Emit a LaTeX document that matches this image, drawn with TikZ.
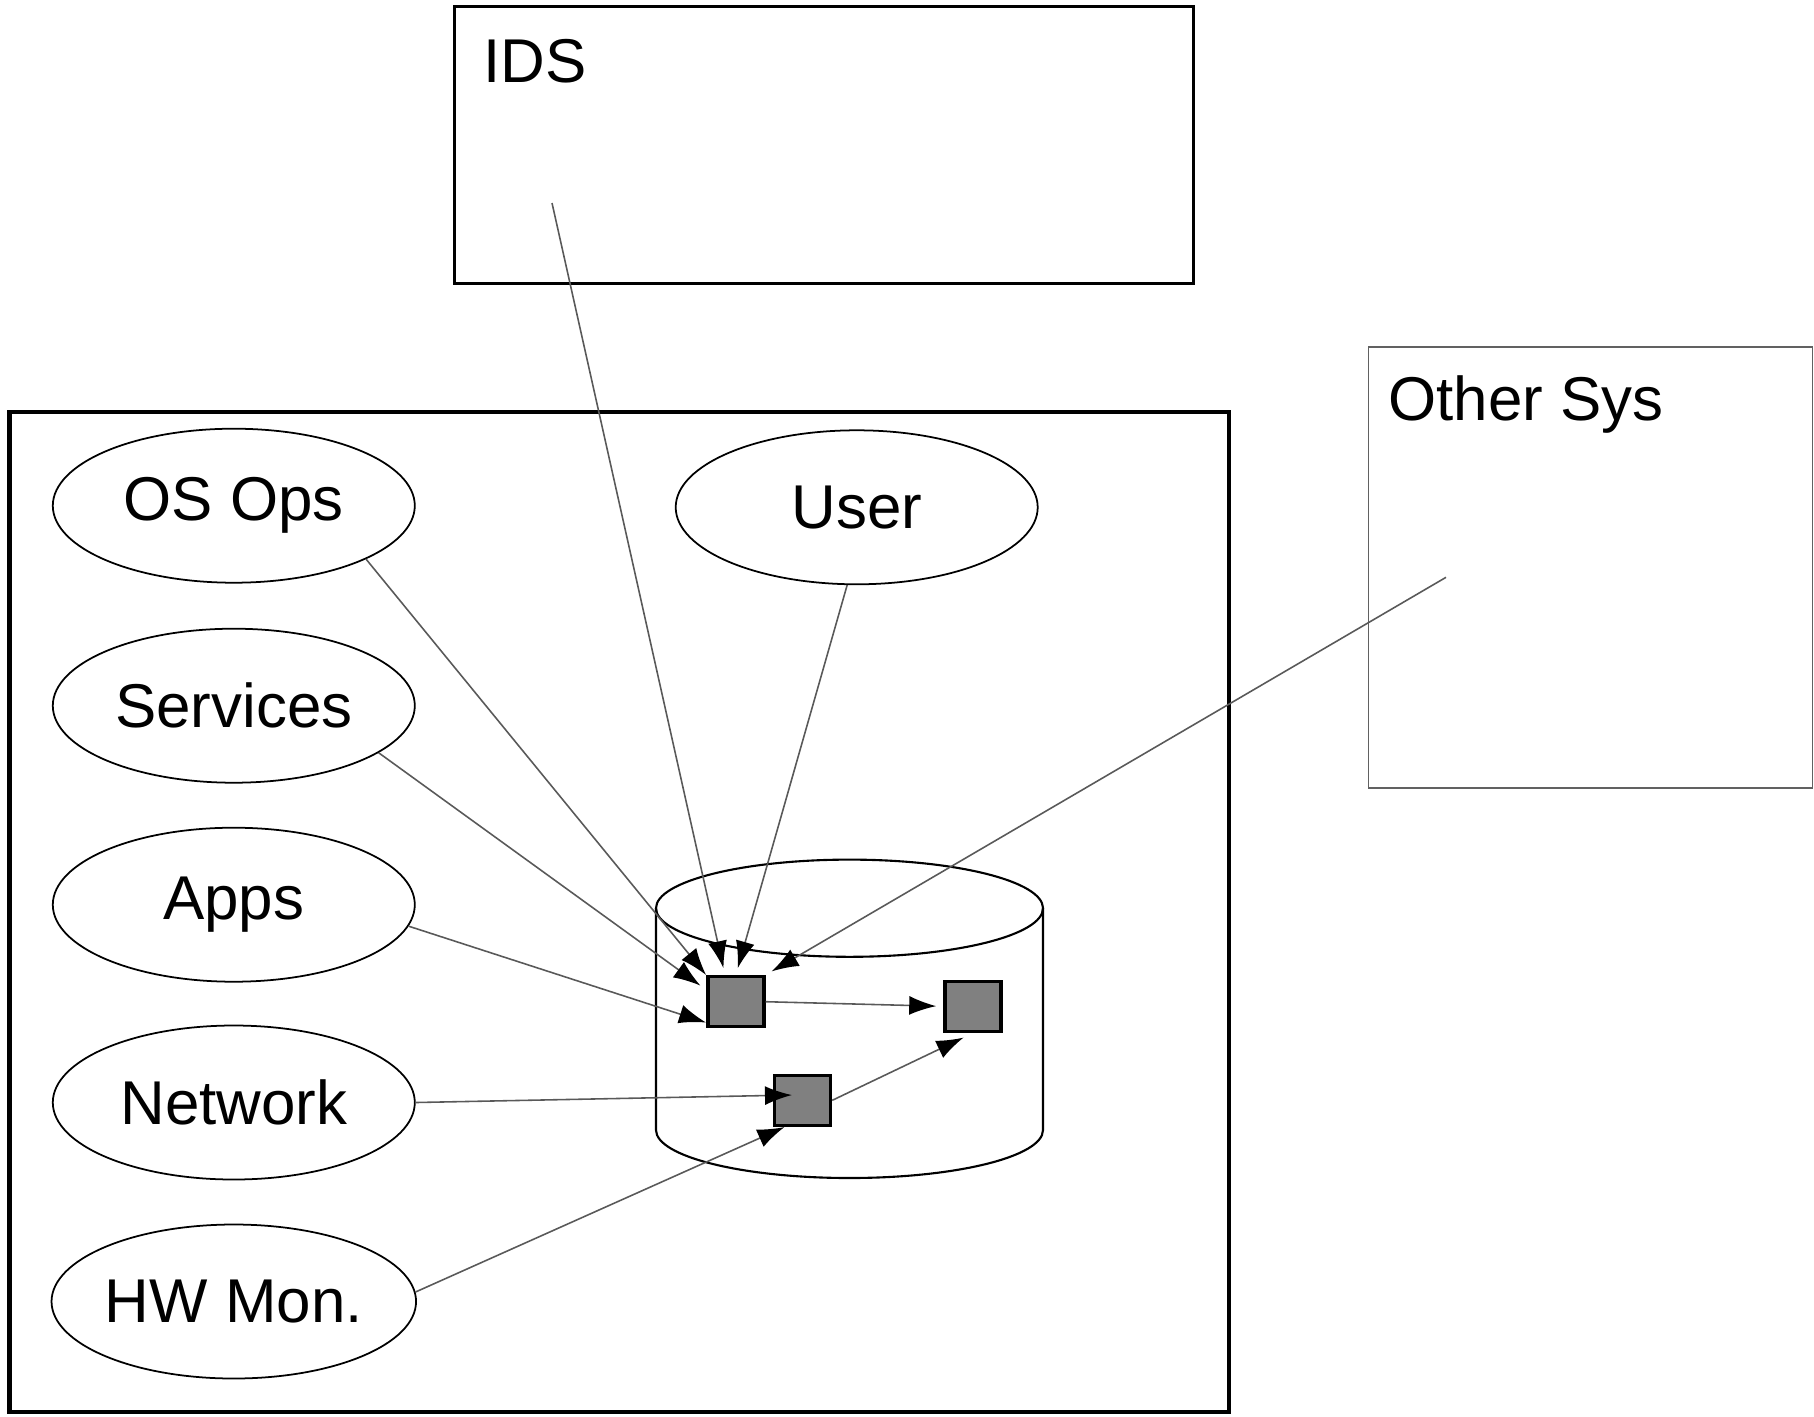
\documentclass[tikz,border=0pt]{standalone}
\usepackage{fontspec}
\setmainfont{Liberation Sans}
\usetikzlibrary{shapes.geometric,arrows.meta}

\begin{document}
\begin{tikzpicture}[
	source/.style={draw, ellipse, line width=0.5pt, inner sep=0pt, minimum width=3.62cm, minimum height=1.54cm},
	sysbox/.style={draw, rectangle, inner sep=0pt},
	rec/.style={draw, line width=1pt, fill=black!50, inner sep=0pt, minimum width=0.56cm, minimum height=0.5cm},
	feed/.style={draw=black!65, line width=0.45pt, -{Latex[length=0.27cm, width=0.19cm, color=black]}},
	font=\fontsize{17.6pt}{20pt}\selectfont
]
	\useasboundingbox (0,0) rectangle (18.14,14.16);

	%% The host -- just a heavy frame
	\draw [line width=1.4pt] (0.097,0.04) rectangle (12.29,10.04);

	%% Outside systems, label sits top left
	\node at (8.243,12.712) [sysbox, line width=0.9pt, minimum width=7.39cm, minimum height=2.77cm] (ids) {};
	\node at (4.83,13.33) [anchor=base west, inner sep=0pt] (idslabel) {IDS};
	\node at (15.905,8.482) [sysbox, draw=black!62, line width=0.5pt, minimum width=4.44cm, minimum height=4.41cm] (othersys) {};
	\node at (13.877,9.953) [anchor=base west, inner sep=0pt] (othersyslabel) {Other Sys};
	\coordinate (idsout) at (5.52,12.13);		% where the IDS feed leaves
	\coordinate (othersysout) at (14.46,8.387);	% same for Other Sys

	%% Event sources
	\node at (2.338,9.103) [source] (os) {OS Ops};
	\node at (2.338,7.103) [source] (services) {Services};
	\node at (2.338,5.113) [source] (apps) {Apps};
	\node at (2.338,3.135) [source] (network) {Network};
	\node at (2.338,1.145) [source] (hwmon) {HW Mon.};
	\node at (8.567,9.087) [source] (user) {User};

	%% The log store (a drum) and its records
	\draw [line width=0.6pt] (8.495,5.078) ellipse [x radius=1.935cm, y radius=0.486cm];
	\draw [line width=0.6pt] (6.56,5.078) -- (6.56,2.86) arc [start angle=180, end angle=360, x radius=1.935cm, y radius=0.48cm] -- (10.43,5.078);

	\node at (7.358,4.143) [rec] (rec1) {};
	\node at (9.73,4.097) [rec] (rec2) {};
	\node at (8.025,3.157) [rec] (rec3) {};

	%% Feeds into the store
	\draw [feed] (os.338) -- (rec1.north west);
	\draw [feed, shorten >=2pt] (services.342) -- (rec1.158);
	\draw [feed] (apps.353) -- (rec1.215);
	\draw [feed, shorten >=2pt] (idsout) -- (rec1.112);
	\draw [feed, shorten >=2pt] (user.263) -- (rec1.north);
	\draw [feed, shorten >=2pt] (othersysout) -- (rec1.north east);
	\draw [feed] (network.east) -- ([xshift=-3pt, yshift=1.5pt]rec3.center);
	\draw [feed] (hwmon.3) -- (rec3.236);

	%% Inside the store
	\draw [feed, shorten >=2pt] (rec1.east) -- (rec2.west);
	\draw [feed, shorten >=3pt] (rec3.east) -- (rec2.south);
\end{tikzpicture}
\end{document}
